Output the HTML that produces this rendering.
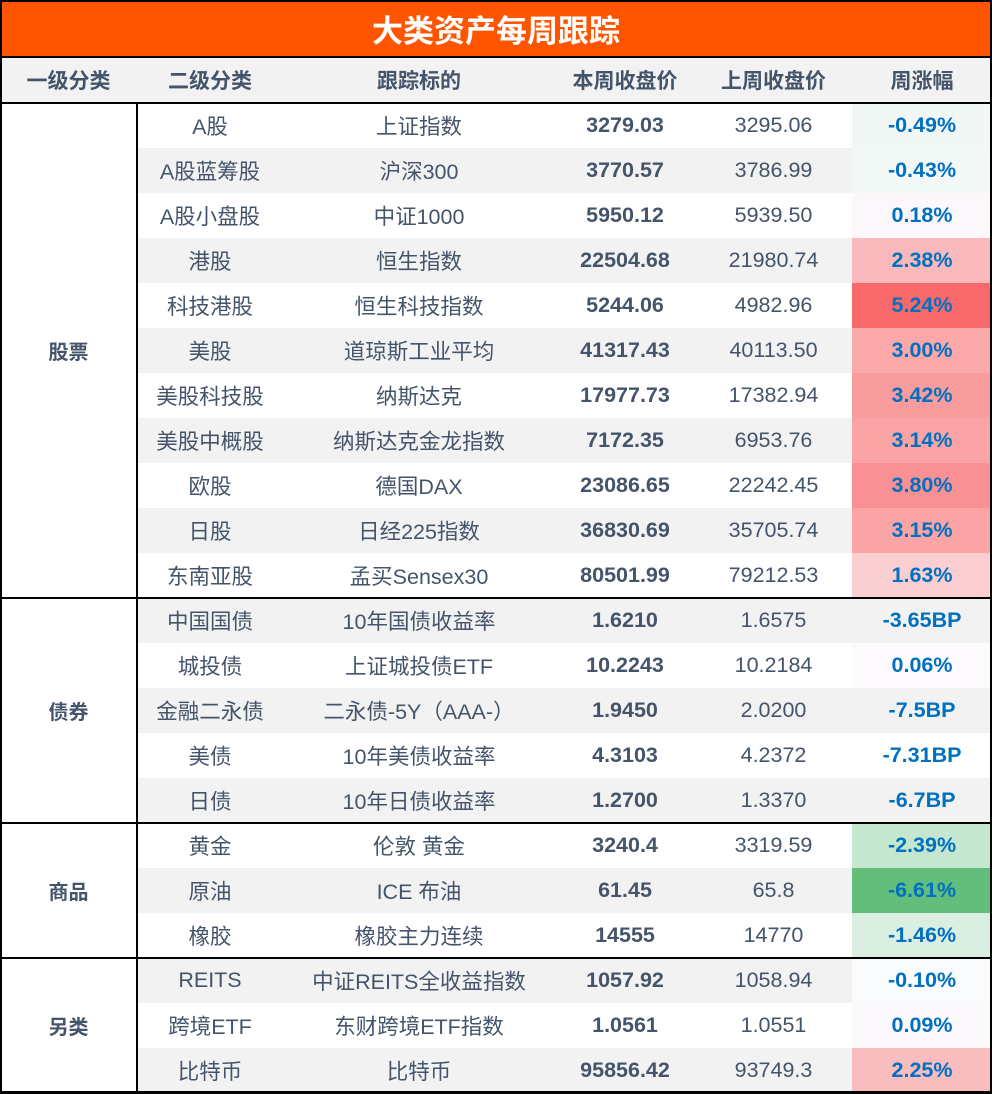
<!DOCTYPE html>
<html><head><meta charset="utf-8"><style>
body{margin:0;width:992px;height:1093px;overflow:hidden;background:#fff;font-family:"Liberation Sans","Noto Sans CJK SC",sans-serif;}
#wrap{position:absolute;left:0;top:0;width:992px;height:1093px;}
.c{position:absolute;display:flex;align-items:center;justify-content:center;font-size:20px;color:#44546a;box-sizing:border-box;}
.n{font-size:21.5px}
.b{font-weight:bold}
.ln{position:absolute;background:#000;}
</style></head><body>
<div id="wrap">
<div class="c b" style="left:0;top:0;width:992px;height:57px;background:#ff5500;color:#fff;font-size:31px;">大类资产每周跟踪</div>
</div>
<script>
const groups=["股票","债券","商品","另类"];
const groupSizes=[11,5,3,3];
const subCats=["A股","A股蓝筹股","A股小盘股","港股","科技港股","美股","美股科技股","美股中概股","欧股","日股","东南亚股","中国国债","城投债","金融二永债","美债","日债","黄金","原油","橡胶","REITS","跨境ETF","比特币"];
const targets=["上证指数","沪深300","中证1000","恒生指数","恒生科技指数","道琼斯工业平均","纳斯达克","纳斯达克金龙指数","德国DAX","日经225指数","孟买Sensex30","10年国债收益率","上证城投债ETF","二永债-5Y（AAA-）","10年美债收益率","10年日债收益率","伦敦 黄金","ICE 布油","橡胶主力连续","中证REITS全收益指数","东财跨境ETF指数","比特币"];
const thisWeek=["3279.03","3770.57","5950.12","22504.68","5244.06","41317.43","17977.73","7172.35","23086.65","36830.69","80501.99","1.6210","10.2243","1.9450","4.3103","1.2700","3240.4","61.45","14555","1057.92","1.0561","95856.42"];
const lastWeek=["3295.06","3786.99","5939.50","21980.74","4982.96","40113.50","17382.94","6953.76","22242.45","35705.74","79212.53","1.6575","10.2184","2.0200","4.2372","1.3370","3319.59","65.8","14770","1058.94","1.0551","93749.3"];
const changes=[-0.49,-0.43,0.18,2.38,5.24,3.00,3.42,3.14,3.80,3.15,1.63,-3.65,0.06,-7.5,-7.31,-6.7,-2.39,-6.61,-1.46,-0.10,0.09,2.25];
const units=["%","%","%","%","%","%","%","%","%","%","%","BP","%","BP","BP","BP","%","%","%","%","%","%"];
const headers=["一级分类","二级分类","跟踪标的","本周收盘价","上周收盘价","周涨幅"];
const colX=[0,137,283,555,695,852,992];
const W=document.getElementById('wrap');
function cell(x,y,w,h,txt,cls,style,name){const d=document.createElement('div');d.className='c '+(cls||'');d.style.cssText=`left:${x}px;top:${y}px;width:${w}px;height:${h}px;`+(style||'');d.textContent=txt;


W.appendChild(d);return d;}
function line(x,y,w,h){const d=document.createElement('div');d.className='ln';d.style.cssText=`left:${x}px;top:${y}px;width:${w}px;height:${h}px;`;


W.appendChild(d);}
headers.forEach((h,i)=>cell(colX[i],57,colX[i+1]-colX[i],46,h,'b','background:#f2f2f2;font-size:21px;','header-cell'));
const top0=103,rh=45;
function mix(a,b,t){return 'rgb('+a.map((v,i)=>Math.round(v+(b[i]-v)*t)).join(',')+')';}
subCats.forEach((s,i)=>{const y=top0+i*rh;const bg=i%2?'#f2f2f2':'#ffffff';
cell(137,y,855,rh,'','','background:'+bg+';','row-background');
cell(colX[1],y,colX[2]-colX[1],rh,s,'n','','sub-category');
cell(colX[2],y,colX[3]-colX[2],rh,targets[i],'n','','tracking-target');
cell(colX[3],y,colX[4]-colX[3],rh,thisWeek[i],'b n','','this-week-close');
cell(colX[4],y,colX[5]-colX[4],rh,lastWeek[i],'n','','last-week-close');
let c=changes[i],col=bg;
if(units[i]=='%'){col=c>=0?mix([252,252,255],[248,105,107],c/5.24):mix([252,252,255],[99,190,123],-c/6.61);}
const txt=(units[i]=='%'?c.toFixed(2):String(c))+units[i];
cell(colX[5],y,colX[6]-colX[5],rh,txt,'b n','background:'+col+';color:#0070c0;','weekly-change');
});
let y=top0;
groups.forEach((g,i)=>{const h=groupSizes[i]*rh;cell(0,y,137,h,g,'b','','group-label');y+=h;line(0,y-1,992,2);});
line(0,0,992,2);line(0,56,992,2);line(0,102,992,2);line(0,0,2,1093);line(990,0,2,1093);line(136,103,2,990);line(0,1091,992,2);
</script>
</body></html>
